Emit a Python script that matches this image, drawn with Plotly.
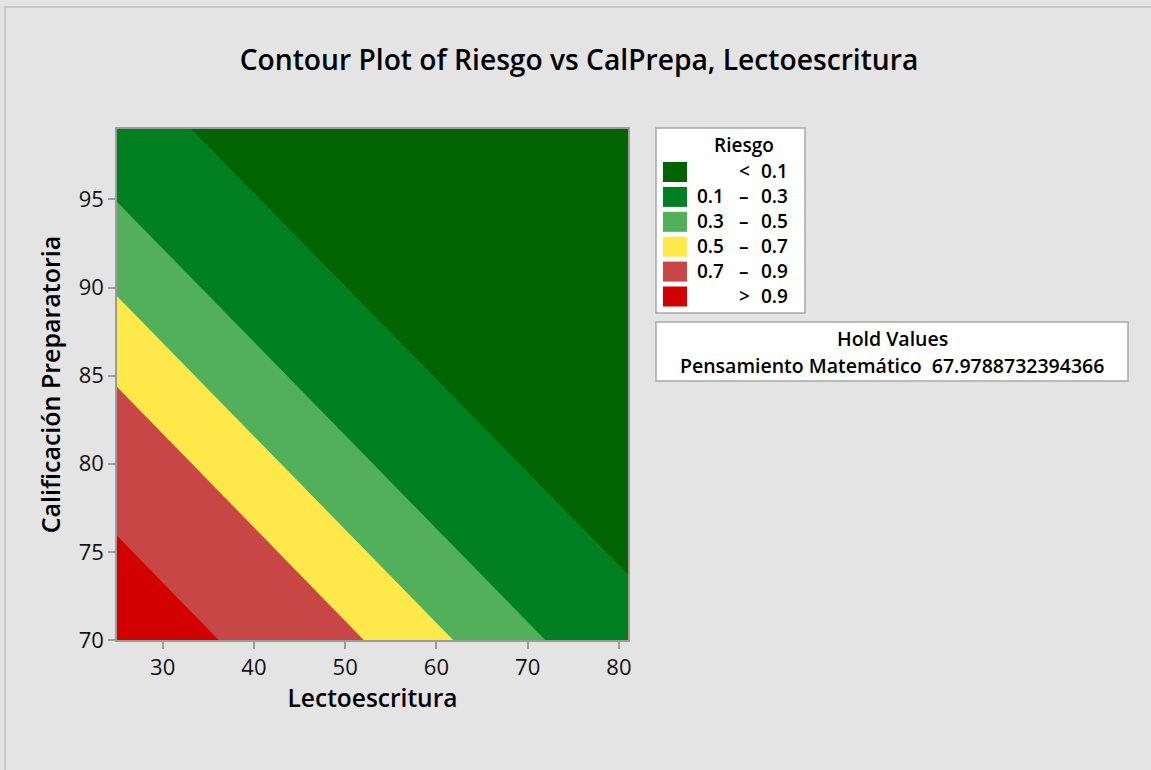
import plotly.graph_objects as go

# Axis extents of the response surface
lect_range = [25.0, 81.0]
cal_range = [70.0, 99.0]

# Contour levels of Riesgo and the straight boundary lines between bands,
# each given by its two end points (Lectoescritura, CalPrepa)
levels = [0.1, 0.3, 0.5, 0.7, 0.9]
line_lect_a = [33.1, 25.0, 25.0, 25.0, 25.0]
line_cal_a = [99.0, 94.85, 89.5, 84.35, 75.9]
line_lect_b = [81.0, 71.9, 61.8, 52.0, 36.1]
line_cal_b = [73.7, 70.0, 70.0, 70.0, 70.0]

band_colors = ["#006400", "#008020", "#52b05a", "#ffe94a", "#c84646", "#d20000"]

x_ticks = [30, 40, 50, 60, 70, 80]
y_ticks = [70, 75, 80, 85, 90, 95]

hold_name = "Pensamiento Matemático"
hold_value = "67.9788732394366"

FONT = "Open Sans"
W, H = 1151, 770
L, R, T, B = 117, 628, 129, 640  # plot area in pixels


def clip_half_plane(poly, a, b, keep):
    """Sutherland-Hodgman clip of poly against the side of line a-b holding keep."""
    def side(p):
        return (b[0] - a[0]) * (p[1] - a[1]) - (b[1] - a[1]) * (p[0] - a[0])

    s0 = 1 if side(keep) >= 0 else -1
    out = []
    n = len(poly)
    for i in range(n):
        p, q = poly[i], poly[(i + 1) % n]
        sp, sq = side(p) * s0, side(q) * s0
        if sp >= 0:
            out.append(p)
        if (sp >= 0) != (sq >= 0):
            t = sp / (sp - sq)
            out.append((p[0] + t * (q[0] - p[0]), p[1] + t * (q[1] - p[1])))
    return out


rect = [
    (lect_range[0], cal_range[0]),
    (lect_range[1], cal_range[0]),
    (lect_range[1], cal_range[1]),
    (lect_range[0], cal_range[1]),
]
high_risk_corner = (lect_range[0], cal_range[0])

fig = go.Figure()

# Bands are layered: each layer covers the region at or above a level
layers = [rect]
for k in range(len(levels)):
    a = (line_lect_a[k], line_cal_a[k])
    b = (line_lect_b[k], line_cal_b[k])
    layers.append(clip_half_plane(rect, a, b, high_risk_corner))

for poly, color in zip(layers, band_colors):
    xs = [p[0] for p in poly] + [poly[0][0]]
    ys = [p[1] for p in poly] + [poly[0][1]]
    fig.add_trace(go.Scatter(
        x=xs, y=ys, mode="lines", fill="toself", fillcolor=color,
        line=dict(width=0.6, color=color), hoverinfo="skip", showlegend=False,
    ))


def px(x):
    return (x - L) / (R - L)


def py(y):
    return (B - y) / (B - T)


shapes = []
annotations = []

# Outer frame lines of the graph window
shapes.append(dict(type="line", xref="paper", yref="paper", x0=px(4), x1=px(W), y0=py(7), y1=py(7),
                   line=dict(color="#c8c8c8", width=2)))
shapes.append(dict(type="line", xref="paper", yref="paper", x0=px(5), x1=px(5), y0=py(7), y1=py(H),
                   line=dict(color="#c8c8c8", width=2)))

# Legend box
lg_x0, lg_x1, lg_y0, lg_y1 = 656, 805, 128, 313
shapes.append(dict(type="rect", xref="paper", yref="paper", x0=px(lg_x0), x1=px(lg_x1),
                   y0=py(lg_y1), y1=py(lg_y0), fillcolor="white",
                   line=dict(color="#a8a8a8", width=1.5)))
annotations.append(dict(xref="paper", yref="paper", x=px(744), y=py(145), text="Riesgo",
                        showarrow=False, xanchor="center", yanchor="middle",
                        font=dict(family=FONT, size=19, color="black", weight=600)))

row_y0, row_step = 171, 24.9
for i, color in enumerate(band_colors):
    yc = row_y0 + i * row_step
    shapes.append(dict(type="rect", xref="paper", yref="paper", x0=px(663), x1=px(687),
                       y0=py(yc + 11), y1=py(yc - 9), fillcolor=color, line=dict(width=0)))
    if i == 0:
        lo, sym, hi = "", "<", f"{levels[0]}"
    elif i == len(band_colors) - 1:
        lo, sym, hi = "", ">", f"{levels[-1]}"
    else:
        lo, sym, hi = f"{levels[i - 1]}", "–", f"{levels[i]}"
    f = dict(family=FONT, size=19, color="black", weight=600)
    if lo:
        annotations.append(dict(xref="paper", yref="paper", x=px(726), y=py(yc), text=lo,
                                showarrow=False, xanchor="right", yanchor="middle", font=f))
    annotations.append(dict(xref="paper", yref="paper", x=px(744), y=py(yc), text=sym,
                            showarrow=False, xanchor="center", yanchor="middle", font=f))
    annotations.append(dict(xref="paper", yref="paper", x=px(790), y=py(yc), text=hi,
                            showarrow=False, xanchor="right", yanchor="middle", font=f))

# Hold values box
shapes.append(dict(type="rect", xref="paper", yref="paper", x0=px(656), x1=px(1128),
                   y0=py(381), y1=py(322), fillcolor="white",
                   line=dict(color="#a8a8a8", width=1.5)))
annotations.append(dict(xref="paper", yref="paper", x=px(892), y=py(338), text="Hold Values",
                        showarrow=False, xanchor="center", yanchor="middle",
                        font=dict(family=FONT, size=19.5, color="black", weight=600)))
annotations.append(dict(xref="paper", yref="paper", x=px(892), y=py(365),
                        text=f"{hold_name}  {hold_value}",
                        showarrow=False, xanchor="center", yanchor="middle",
                        font=dict(family=FONT, size=19.5, color="black", weight=600)))

axis_common = dict(
    showline=True, mirror=True, linecolor="#9c9c9c", linewidth=1.5,
    ticks="outside", ticklen=7, tickwidth=1.5, tickcolor="#9c9c9c",
    showgrid=False, zeroline=False,
    tickfont=dict(family=FONT, size=22, color="#111111", weight=500),
)

fig.update_layout(
    width=W, height=H,
    margin=dict(l=L, r=W - R, t=T, b=H - B, pad=0),
    paper_bgcolor="#e4e4e4", plot_bgcolor="#e4e4e4",
    title=dict(text="Contour Plot of Riesgo vs CalPrepa, Lectoescritura",
               x=579 / W, xanchor="center", y=1 - 60 / H, yanchor="middle",
               font=dict(family=FONT, size=28.2, color="black", weight=600)),
    xaxis=dict(range=lect_range, tickvals=x_ticks, **axis_common,
               title=dict(text="Lectoescritura", standoff=2,
                          font=dict(family=FONT, size=24.5, color="black", weight=600))),
    yaxis=dict(range=cal_range, tickvals=y_ticks, **axis_common,
               title=dict(text="Calificación Preparatoria", standoff=11,
                          font=dict(family=FONT, size=25, color="black", weight=600))),
    shapes=shapes,
    annotations=annotations,
    showlegend=False,
)

fig.write_html("out.html")
